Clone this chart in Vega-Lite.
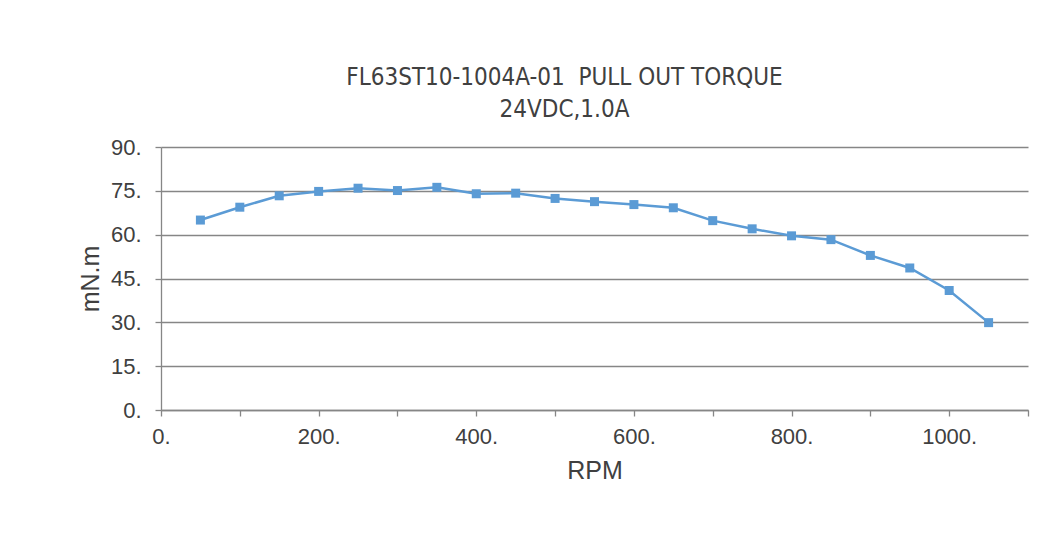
{
  "$schema": "https://vega.github.io/schema/vega-lite/v6.json",
  "width": 867,
  "height": 263,
  "autosize": "none",
  "padding": {"left": 161, "top": 147, "right": 20, "bottom": 137},
  "background": "white",
  "title": {
    "text": ["FL63ST10-1004A-01 \u00a0PULL OUT TORQUE", "24VDC,1.0A"],
    "font": "Liberation Sans Narrow, DejaVu Sans Condensed, Open Sans",
    "fontSize": 24,
    "fontWeight": "normal",
    "color": "#404040",
    "lineHeight": 32,
    "anchor": "middle",
    "dx": -30,
    "offset": 14
  },
  "data": {
    "values": [
      {"rpm": 50, "torque": 65.0},
      {"rpm": 100, "torque": 69.4},
      {"rpm": 150, "torque": 73.3},
      {"rpm": 200, "torque": 74.8},
      {"rpm": 250, "torque": 75.9},
      {"rpm": 300, "torque": 75.1},
      {"rpm": 350, "torque": 76.2},
      {"rpm": 400, "torque": 74.0},
      {"rpm": 450, "torque": 74.2},
      {"rpm": 500, "torque": 72.4},
      {"rpm": 550, "torque": 71.3},
      {"rpm": 600, "torque": 70.3},
      {"rpm": 650, "torque": 69.2},
      {"rpm": 700, "torque": 64.8},
      {"rpm": 750, "torque": 62.0},
      {"rpm": 800, "torque": 59.6},
      {"rpm": 850, "torque": 58.3},
      {"rpm": 900, "torque": 52.9},
      {"rpm": 950, "torque": 48.6},
      {"rpm": 1000, "torque": 40.9},
      {"rpm": 1050, "torque": 29.9}
    ]
  },
  "encoding": {
    "x": {
      "field": "rpm",
      "type": "quantitative",
      "scale": {"domain": [0, 1100], "nice": false, "zero": true},
      "axis": {
        "title": "RPM",
        "values": [0, 100, 200, 300, 400, 500, 600, 700, 800, 900, 1000, 1100],
        "labelExpr": "datum.value % 200 == 0 && datum.value <= 1000 ? datum.value + '.' : ''",
        "grid": false,
        "domainColor": "#868686",
        "domainWidth": 1.3,
        "tickColor": "#868686",
        "tickWidth": 1.3,
        "tickSize": 6,
        "labelFont": "Liberation Sans",
        "labelFontSize": 22,
        "labelColor": "#404040",
        "labelPadding": 10,
        "labelFlush": false,
        "titleFont": "Liberation Sans",
        "titleFontSize": 25,
        "titleFontWeight": "normal",
        "titleColor": "#404040",
        "titlePadding": 11
      }
    },
    "y": {
      "field": "torque",
      "type": "quantitative",
      "scale": {"domain": [0, 90], "nice": false},
      "axis": {
        "title": "mN.m",
        "values": [0, 15, 30, 45, 60, 75, 90],
        "labelExpr": "datum.value + '.'",
        "grid": true,
        "gridColor": "#868686",
        "gridWidth": 1.3,
        "domainColor": "#868686",
        "domainWidth": 1.3,
        "tickColor": "#868686",
        "tickWidth": 1.3,
        "tickSize": 6,
        "labelFont": "Liberation Sans",
        "labelFontSize": 22,
        "labelColor": "#404040",
        "labelPadding": 14,
        "labelFlush": false,
        "titleFont": "Liberation Sans",
        "titleFontSize": 25,
        "titleFontWeight": "normal",
        "titleColor": "#404040",
        "titlePadding": 7
      }
    }
  },
  "layer": [
    {
      "mark": {"type": "line", "color": "#5B9BD5", "strokeWidth": 2.5}
    },
    {
      "mark": {"type": "point", "shape": "square", "filled": true, "size": 81, "color": "#5B9BD5", "opacity": 1}
    }
  ],
  "config": {
    "view": {"stroke": null}
  }
}
